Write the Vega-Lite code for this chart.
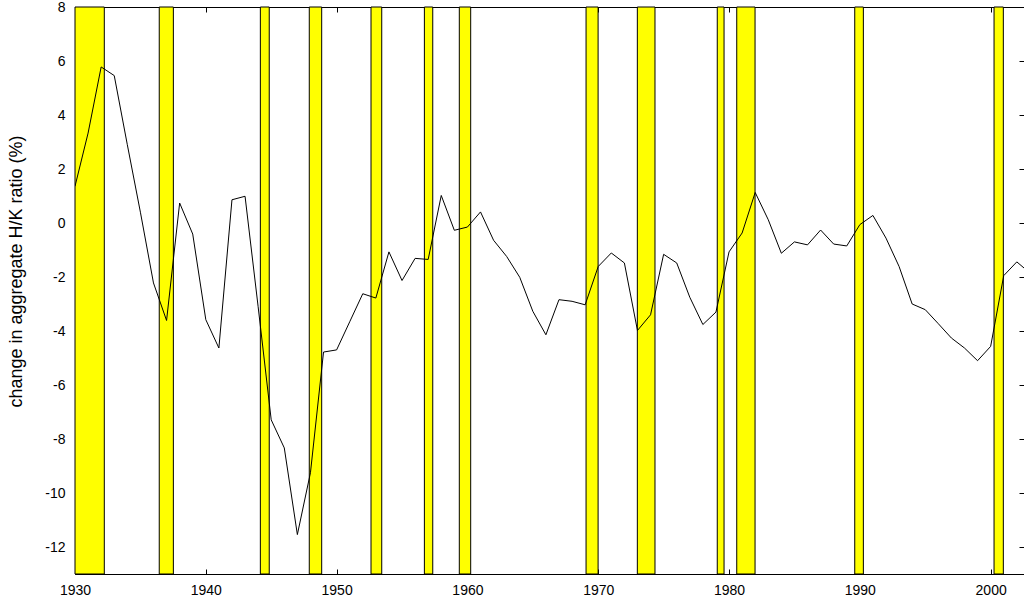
{
  "$schema": "https://vega.github.io/schema/vega-lite/v6.json",
  "autosize": {"type": "none"},
  "padding": {"left": 75, "top": 7, "right": 0, "bottom": 27},
  "width": 949,
  "height": 567,
  "background": "white",
  "view": {"stroke": null},
  "config": {
    "font": "Liberation Sans",
    "axis": {"labelFont": "Liberation Sans", "titleFont": "Liberation Sans", "labelFontSize": 14, "titleFontSize": 18, "labelColor": "black", "titleColor": "black", "domainColor": "black", "tickColor": "black", "grid": false, "titleFontWeight": "normal", "labelFlush": false, "labelOverlap": false}
  },
  "datasets": {
    "series": [
      {"year": 1930, "value": 1.36}, {"year": 1931, "value": 3.33}, {"year": 1932, "value": 5.78}, {"year": 1933, "value": 5.46},
      {"year": 1934, "value": 2.9}, {"year": 1935, "value": 0.4}, {"year": 1936, "value": -2.22}, {"year": 1937, "value": -3.61},
      {"year": 1938, "value": 0.74}, {"year": 1939, "value": -0.41}, {"year": 1940, "value": -3.58}, {"year": 1941, "value": -4.63},
      {"year": 1942, "value": 0.86}, {"year": 1943, "value": 0.99}, {"year": 1944, "value": -3.1}, {"year": 1945, "value": -7.29},
      {"year": 1946, "value": -8.33}, {"year": 1947, "value": -11.54}, {"year": 1948, "value": -9.25}, {"year": 1949, "value": -4.78},
      {"year": 1950, "value": -4.7}, {"year": 1951, "value": -3.66}, {"year": 1952, "value": -2.62}, {"year": 1953, "value": -2.78},
      {"year": 1954, "value": -1.07}, {"year": 1955, "value": -2.13}, {"year": 1956, "value": -1.31}, {"year": 1957, "value": -1.35},
      {"year": 1958, "value": 1.02}, {"year": 1959, "value": -0.27}, {"year": 1960, "value": -0.15}, {"year": 1961, "value": 0.41},
      {"year": 1962, "value": -0.64}, {"year": 1963, "value": -1.24}, {"year": 1964, "value": -2.01}, {"year": 1965, "value": -3.27},
      {"year": 1966, "value": -4.14}, {"year": 1967, "value": -2.84}, {"year": 1968, "value": -2.9}, {"year": 1969, "value": -3.03},
      {"year": 1970, "value": -1.61}, {"year": 1971, "value": -1.11}, {"year": 1972, "value": -1.48}, {"year": 1973, "value": -3.98},
      {"year": 1974, "value": -3.4}, {"year": 1975, "value": -1.16}, {"year": 1976, "value": -1.48}, {"year": 1977, "value": -2.75},
      {"year": 1978, "value": -3.76}, {"year": 1979, "value": -3.3}, {"year": 1980, "value": -1.07}, {"year": 1981, "value": -0.37},
      {"year": 1982, "value": 1.13}, {"year": 1983, "value": 0.12}, {"year": 1984, "value": -1.12}, {"year": 1985, "value": -0.7},
      {"year": 1986, "value": -0.81}, {"year": 1987, "value": -0.26}, {"year": 1988, "value": -0.78}, {"year": 1989, "value": -0.85},
      {"year": 1990, "value": -0.06}, {"year": 1991, "value": 0.28}, {"year": 1992, "value": -0.56}, {"year": 1993, "value": -1.61},
      {"year": 1994, "value": -3.0}, {"year": 1995, "value": -3.21}, {"year": 1996, "value": -3.73}, {"year": 1997, "value": -4.26},
      {"year": 1998, "value": -4.63}, {"year": 1999, "value": -5.1}, {"year": 2000, "value": -4.57}, {"year": 2001, "value": -1.95},
      {"year": 2002, "value": -1.44}, {"year": 2003, "value": -1.85}
    ],
    "rec": [
      {"start": 1930, "end": 1932.24}, {"start": 1936.44, "end": 1937.52}, {"start": 1944.17, "end": 1944.85},
      {"start": 1947.91, "end": 1948.86}, {"start": 1952.63, "end": 1953.45}, {"start": 1956.71, "end": 1957.35},
      {"start": 1959.38, "end": 1960.25}, {"start": 1969.07, "end": 1969.99}, {"start": 1972.99, "end": 1974.34},
      {"start": 1979.1, "end": 1979.62}, {"start": 1980.59, "end": 1981.99}, {"start": 1989.61, "end": 1990.27},
      {"start": 2000.26, "end": 2000.97}
    ]
  },
  "resolve": {"axis": {"x": "independent", "y": "independent"}},
  "layer": [
    {
      "data": {"name": "rec"},
      "mark": {"type": "rect", "fill": "#ffff00", "stroke": "black", "strokeWidth": 1},
      "encoding": {
        "x": {"field": "start", "type": "quantitative", "scale": {"domain": [1930, 2002.55], "nice": false, "zero": false},
              "axis": {"orient": "bottom", "values": [1930, 1940, 1950, 1960, 1970, 1980, 1990, 2000], "format": "d", "title": null, "tickSize": -5, "labelPadding": 14, "domain": true}},
        "x2": {"field": "end"},
        "y": {"datum": 8, "type": "quantitative", "scale": {"domain": [-13, 8], "nice": false, "zero": false},
              "axis": {"orient": "right", "values": [-12, -10, -8, -6, -4, -2, 0, 2, 4, 6, 8], "labels": false, "tickSize": -5, "domain": false, "title": null}},
        "y2": {"datum": -13}
      }
    },
    {
      "data": {"name": "series"},
      "mark": {"type": "line", "color": "black", "strokeWidth": 1, "clip": true},
      "encoding": {
        "x": {"field": "year", "type": "quantitative", "scale": {"domain": [1930, 2002.55], "nice": false, "zero": false},
              "axis": {"orient": "top", "values": [1930, 1940, 1950, 1960, 1970, 1980, 1990, 2000], "labels": false, "tickSize": -5, "domain": true, "title": null}},
        "y": {"field": "value", "type": "quantitative", "scale": {"domain": [-13, 8], "nice": false, "zero": false},
              "axis": {"orient": "left", "values": [-12, -10, -8, -6, -4, -2, 0, 2, 4, 6, 8], "labelExpr": "toString(datum.value)", "ticks": false, "labelPadding": 10, "domain": true, "title": "change in aggregate H/K ratio (%)", "titleX": -59, "titleY": 264, "titleBaseline": "middle", "titleAlign": "center", "titleAngle": 270}}
      }
    }
  ]
}
